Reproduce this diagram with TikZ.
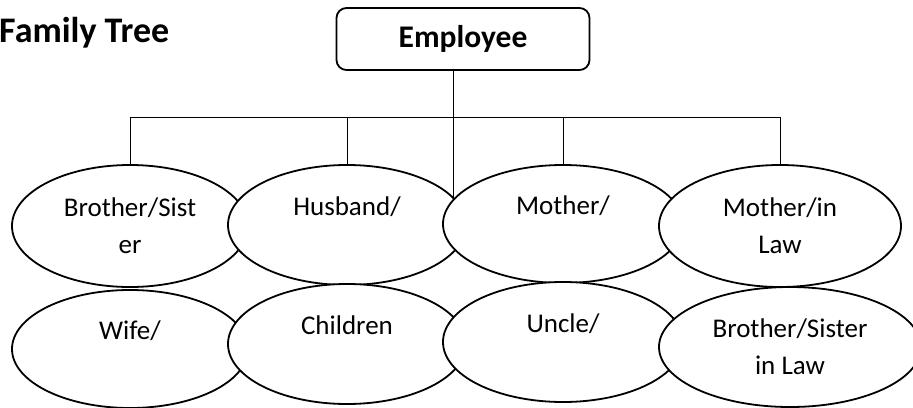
\documentclass[tikz,border=0pt]{standalone}
\usepackage{fontspec}
\setmainfont{Carlito}
\usetikzlibrary{shapes.geometric,backgrounds}

\begin{document}
\begin{tikzpicture}[x=1pt, y=-1pt, line width=1.8pt,
    member/.style={draw, ellipse, fill=white, inner sep=0pt, align=center,
      font=\fontsize{27}{37}\selectfont},
    boss/.style={draw, rounded corners=10pt, fill=white, minimum width=253pt,
      minimum height=62pt, font=\fontsize{31.5}{36}\selectfont\bfseries}]
    % Employee family tree
    \useasboundingbox (0,0) rectangle (913,407);
    \node[anchor=west, font=\fontsize{36}{40}\selectfont\bfseries] (title) at (-5,33) {Family Tree};
    \node[boss] (emp) at (463,39) {Employee};
    \coordinate (stem) at (453,117);
    \node[member, minimum width=236pt, minimum height=122pt] (bro) at (130,226) {Brother/Sist\\er};
    \node[member, minimum width=238pt, minimum height=120pt] (hus) at (347,225) {Husband/\\\mbox{}};
    \node[member, minimum width=240pt, minimum height=118pt] (mom) at (563,224) {Mother/\\\mbox{}};
    \node[member, minimum width=242pt, minimum height=122pt] (mil) at (780,226) {Mother/in\\Law};
    \node[member, minimum width=236pt, minimum height=118pt] (wife) at (130,349) {Wife/\\\mbox{}};
    \node[member, minimum width=238pt, minimum height=120pt] (kids) at (347,344) {Children\\\mbox{}};
    \node[member, minimum width=240pt, minimum height=120pt] (unc) at (563,342) {Uncle/\\\mbox{}};
    \node[member, minimum width=262pt, minimum height=120pt] (bsil) at (790,347) {Brother/Sister\\in Law};
    \begin{scope}[on background layer]
        \draw (stem |- emp.south) -- (stem |- hus.center);
        \draw (bro.north |- stem) -- (mil.north |- stem);
        \foreach \n in {bro,hus,mom,mil} \draw (\n.north |- stem) -- (\n.north);
    \end{scope}
\end{tikzpicture}
\end{document}
